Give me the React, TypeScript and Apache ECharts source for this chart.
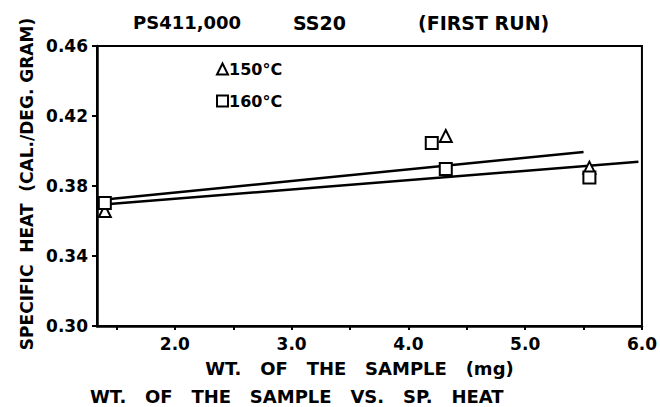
import React, { useEffect, useRef } from "react";
import * as echarts from "echarts";

const titleParts = ["PS411,000", "SS20", "(FIRST RUN)"];
const xAxisName = "WT.   OF   THE   SAMPLE   (mg)";
const yAxisName = "SPECIFIC  HEAT  (CAL./DEG. GRAM)";
const caption = "WT.   OF   THE   SAMPLE   VS.   SP.   HEAT";
const seriesNames = ["150°C", "160°C"];

const xLabelValues = [2, 3, 4, 5, 6];
const xTickValues = [1.5, 2, 2.5, 3, 3.5, 4, 4.5, 5, 5.5, 6];

// measured points
const pts150: [number, number][] = [
  [1.4, 0.3657],
  [4.32, 0.4086],
  [5.55, 0.3905],
];
const pts160: [number, number][] = [
  [1.4, 0.3703],
  [4.2, 0.4046],
  [4.32, 0.3897],
  [5.55, 0.3849],
];
// fitted lines
const fitUpper: [number, number][] = [
  [1.36, 0.372],
  [5.5, 0.3994],
];
const fitLower: [number, number][] = [
  [1.36, 0.3693],
  [5.97, 0.3938],
];

const FONT = "DejaVu Sans";

export default function App() {
  const ref = useRef<HTMLDivElement>(null);
  useEffect(() => {
    if (!ref.current) return;
    const chart = echarts.init(ref.current, null, { renderer: "svg" });
    const markerStyle = { color: "#fff", borderColor: "#000", borderWidth: 2, opacity: 1 };
    chart.setOption({
      animation: false,
      backgroundColor: "#fff",
      textStyle: { fontFamily: FONT, fontWeight: "bold", color: "#000" },
      grid: {
        left: 97,
        right: 17,
        top: 46,
        bottom: 81,
        show: true,
        borderColor: "#000",
        borderWidth: 2,
      },
      legend: {
        data: seriesNames,
        orient: "vertical",
        left: 211,
        top: 56,
        itemGap: 16,
        itemWidth: 11,
        itemHeight: 11,
        textStyle: { fontFamily: FONT, fontWeight: "bold", fontSize: 16, color: "#000", padding: [0, 0, 0, -4] },
      },
      graphic: [
        { type: "text", left: 133, top: 13, style: { text: titleParts[0], font: `bold 18px ${FONT}`, fill: "#000" } },
        { type: "text", left: 293, top: 13, style: { text: titleParts[1], font: `bold 19px ${FONT}`, fill: "#000" } },
        { type: "text", left: 418, top: 13, style: { text: titleParts[2], font: `bold 19px ${FONT}`, fill: "#000" } },
        { type: "text", left: 90, top: 387, style: { text: caption, font: `bold 18px ${FONT}`, fill: "#000" } },
      ],
      xAxis: {
        type: "value",
        min: 1.333,
        max: 6,
        name: xAxisName,
        nameLocation: "middle",
        nameGap: 33,
        nameTextStyle: { fontFamily: FONT, fontWeight: "bold", fontSize: 18, color: "#000", padding: [0, 20, 0, 0] },
        axisLine: { show: true, lineStyle: { color: "#000", width: 2.5 } },
        axisTick: { show: true, customValues: xTickValues, length: 4, lineStyle: { color: "#000", width: 2 } },
        axisLabel: {
          customValues: xLabelValues,
          formatter: (v: number) => v.toFixed(1),
          fontFamily: FONT,
          fontWeight: "bold",
          fontSize: 17,
          color: "#000",
          margin: 9,
        },
        splitLine: { show: false },
      },
      yAxis: {
        type: "value",
        min: 0.3,
        max: 0.46,
        interval: 0.04,
        name: yAxisName,
        nameLocation: "middle",
        nameGap: 62,
        nameTextStyle: { fontFamily: FONT, fontWeight: "bold", fontSize: 17, color: "#000", padding: [0, 0, 0, 4] },
        axisLine: { show: true, lineStyle: { color: "#000", width: 2.5 } },
        axisTick: { show: true, length: 5, lineStyle: { color: "#000", width: 2 } },
        axisLabel: {
          formatter: (v: number) => v.toFixed(2),
          fontFamily: FONT,
          fontWeight: "bold",
          fontSize: 17,
          color: "#000",
          margin: 9,
        },
        splitLine: { show: false },
      },
      series: [
        {
          name: "fit upper",
          type: "line",
          data: fitUpper,
          symbol: "none",
          lineStyle: { color: "#000", width: 2.5 },
          z: 2,
        },
        {
          name: "fit lower",
          type: "line",
          data: fitLower,
          symbol: "none",
          lineStyle: { color: "#000", width: 2.5 },
          z: 2,
        },
        {
          name: seriesNames[0],
          type: "scatter",
          data: pts150,
          symbol: "triangle",
          symbolSize: 12,
          itemStyle: markerStyle,
          z: 3,
        },
        {
          name: seriesNames[1],
          type: "scatter",
          data: pts160,
          symbol: "rect",
          symbolSize: 12,
          itemStyle: markerStyle,
          z: 4,
        },
      ],
    });
    return () => chart.dispose();
  }, []);
  return (
    <div
      ref={ref}
      style={{ position: "absolute", left: 0, top: 0, width: 660, height: 407 }}
    />
  );
}
